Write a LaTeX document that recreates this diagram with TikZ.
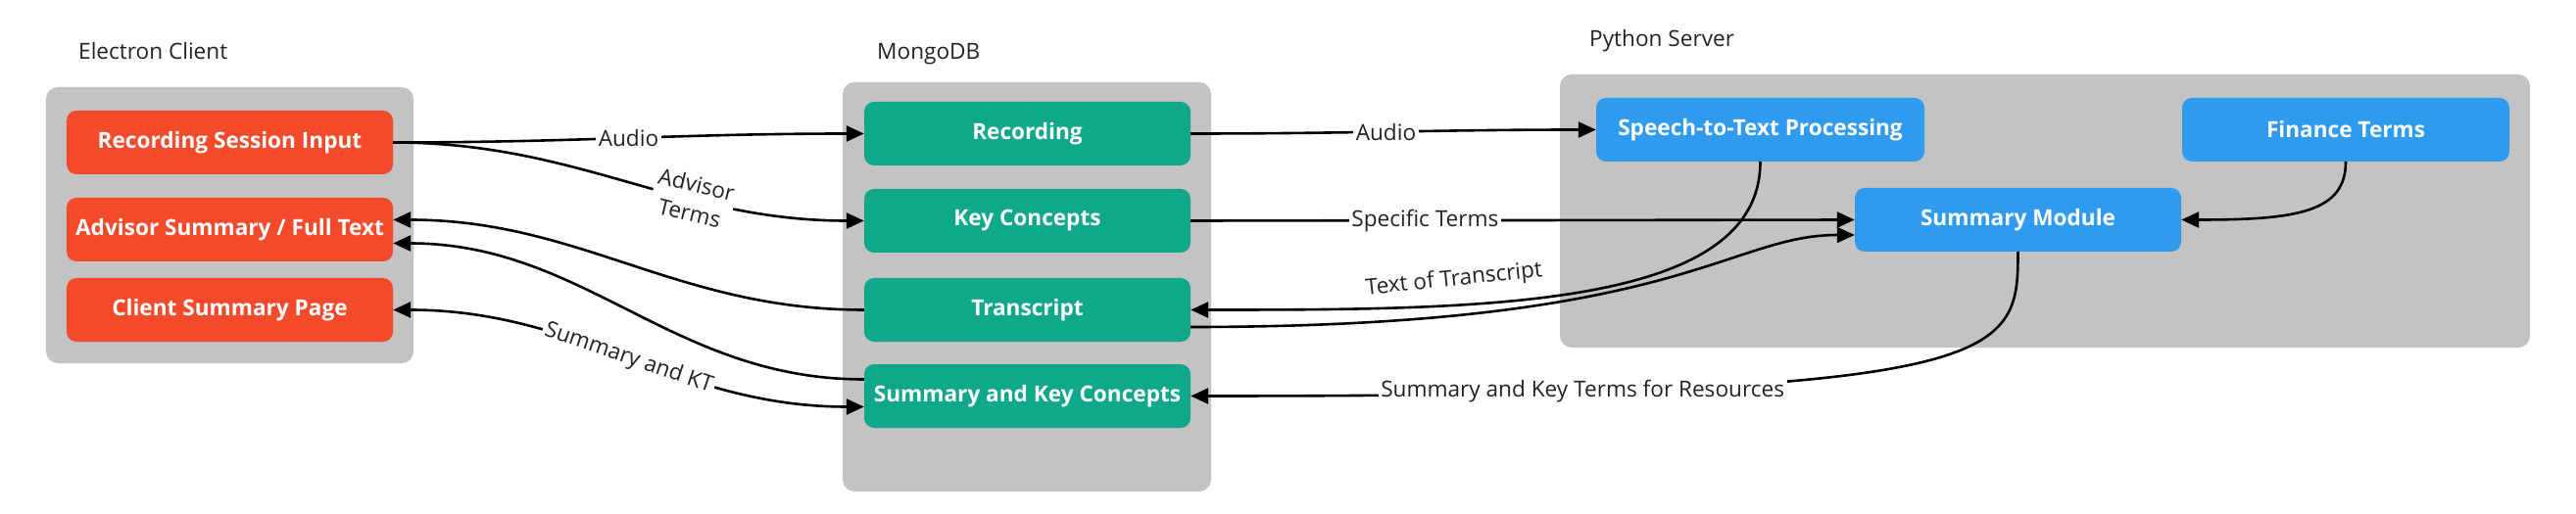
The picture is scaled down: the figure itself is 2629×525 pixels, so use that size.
\documentclass[tikz,border=0pt]{standalone}
\usepackage{fontspec}
\setmainfont{Open Sans}
\usetikzlibrary{arrows.meta}
\definecolor{cred}{HTML}{F24A2B}
\definecolor{cgreen}{HTML}{10A88A}
\definecolor{cblue}{HTML}{2F9BEE}
\definecolor{cgray}{HTML}{C3C3C3}
\definecolor{ctext}{HTML}{222222}
\begin{document}
\begin{tikzpicture}[x=1bp,y=-1bp,
  container/.style={fill=cgray, rounded corners=12bp, inner sep=0pt},
  box/.style={rounded corners=10bp, minimum width=333bp, minimum height=65bp, inner sep=0pt,
    text=white, font=\fontsize{22.6bp}{27bp}\selectfont\bfseries},
  redbox/.style={box, fill=cred},
  greenbox/.style={box, fill=cgreen},
  bluebox/.style={box, fill=cblue},
  title/.style={anchor=base west, inner sep=0pt, text=ctext, font=\fontsize{22.6bp}{27bp}\selectfont},
  lbl/.style={fill=white, inner sep=2.5bp, text=ctext, font=\fontsize{22.6bp}{30bp}\selectfont},
  conn/.style={line width=2.6bp, -{Triangle[length=18bp,width=16bp]}},
  conntwo/.style={line width=2.6bp, {Triangle[length=18bp,width=16bp]}-{Triangle[length=18bp,width=16bp]}},
]
\useasboundingbox (0,0) rectangle (2629,525);
% containers
\node[container, minimum width=375bp, minimum height=282bp] (ec) at (234.5,230) {};
\node[container, minimum width=376bp, minimum height=418bp] (mdb) at (1048,293) {};
\node[container, minimum width=990bp, minimum height=279bp] (py) at (2087,215.5) {};
% titles
\node[title] (tec) at (80,60.5) {Electron Client};
\node[title] (tmdb) at (895,61) {MongoDB};
\node[title] (tpy) at (1622,47.5) {Python Server};
% red boxes
\node[redbox] (rsi) at (234.5,145.5) {Recording Session Input};
\node[redbox] (as) at (234.5,234.5) {Advisor Summary / Full Text};
\node[redbox] (csp) at (234.5,316.5) {Client Summary Page};
% green boxes
\node[greenbox] (rec) at (1048.5,136.5) {Recording};
\node[greenbox] (kc) at (1048.5,225.5) {Key Concepts};
\node[greenbox] (tr) at (1048.5,316.5) {Transcript};
\node[greenbox] (skc) at (1048.5,404.5) {Summary and Key Concepts};
% blue boxes
\node[bluebox, minimum width=335bp] (stt) at (1796.5,132.5) {Speech-to-Text Processing};
\node[bluebox, minimum width=334bp] (fin) at (2394,132.5) {Finance Terms};
\node[bluebox] (sm) at (2059.5,224.5) {Summary Module};
% connectors
\draw[conn] (rsi.east) to[out=0,in=180] node[lbl, pos=0.5]{Audio} (rec.west);
\draw[conn] (rsi.east) to[out=0,in=180] node[lbl, sloped, pos=0.65, align=center]{Advisor\\Terms} (kc.west);
\draw[conn] (tr.west) to[out=180,in=0] ([yshift=10bp]as.east);
\draw[conn] ([yshift=17bp]skc.west) to[out=180,in=0] ([yshift=-14bp]as.east);
\draw[conntwo] (csp.east) to[out=0,in=180] node[lbl, sloped, pos=0.5]{Summary and KT} ([yshift=-11bp]skc.west);
\draw[conn] (rec.east) to[out=0,in=180] node[lbl, pos=0.48]{Audio} (stt.west);
\draw[conn] (kc.east) -- node[lbl, pos=0.353]{Specific Terms} (sm.west);
\draw[conn] (stt.south) .. controls +(0,150) and +(300,0) .. (tr.east);
\node[text=ctext, inner sep=0pt, rotate=6, font=\fontsize{22.6bp}{27bp}\selectfont] (ltt) at (1484,286) {Text of Transcript};
\draw[conn] ([yshift=-17.5bp]tr.east) .. controls +(500,0) and +(-130,0) .. ([yshift=-15.5bp]sm.west);
\draw[conn] (fin.south) .. controls +(0,52) and +(117,0) .. (sm.east);
\draw[conn] (sm.south) .. controls +(0,110) and +(834,0) .. node[lbl, pos=0.805]{Summary and Key Terms for Resources} (skc.east);
\end{tikzpicture}
\end{document}
